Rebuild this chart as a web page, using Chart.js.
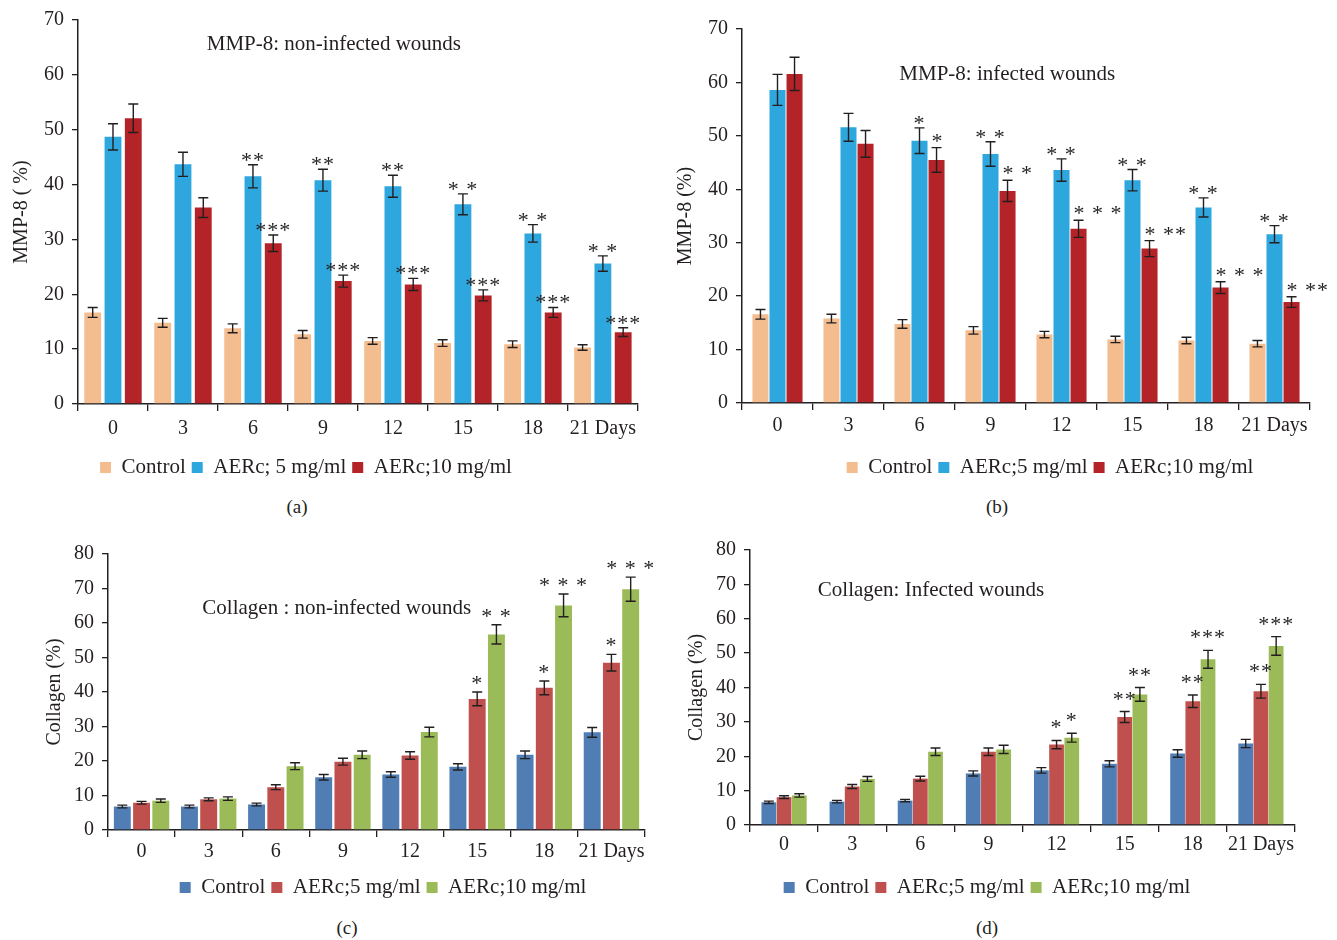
<!DOCTYPE html>
<html>
<head>
<meta charset="utf-8">
<script src="https://cdn.jsdelivr.net/npm/chart.js@4.4.1/dist/chart.umd.min.js"></script>
<style>
  html, body { margin: 0; padding: 0; background: #fff; overflow: hidden; }
  body { width: 1337px; height: 940px; position: relative; font-family: 'Liberation Serif', serif; }
  canvas { position: absolute; }
  .cap { position: absolute; font-size: 19px; color: #231f20; transform: translate(-50%, -50%); }
</style>
</head>
<body>
<canvas id="chartA"></canvas>
<canvas id="chartB"></canvas>
<canvas id="chartC"></canvas>
<canvas id="chartD"></canvas>
<div class="cap" style="left:297px;top:507px">(a)</div>
<div class="cap" style="left:997px;top:507px">(b)</div>
<div class="cap" style="left:347px;top:928px">(c)</div>
<div class="cap" style="left:987px;top:928px">(d)</div>
<script>
// --- DATA ---
const days = ['0', '3', '6', '9', '12', '15', '18', '21 Days'];

// (a) MMP-8, non-infected wounds
const aCtrl = [16.7, 14.8, 13.8, 12.7, 11.5, 11.1, 10.9, 10.3];
const aCtrlErr = [0.9, 0.8, 0.8, 0.7, 0.6, 0.6, 0.6, 0.5];
const aLow = [48.7, 43.7, 41.5, 40.8, 39.7, 36.4, 31.1, 25.6];
const aLowErr = [2.4, 2.2, 2.1, 2.0, 2.0, 1.9, 1.6, 1.4];
const aHigh = [52.1, 35.8, 29.3, 22.4, 21.8, 19.8, 16.7, 13.1];
const aHighErr = [2.6, 1.8, 1.5, 1.1, 1.1, 1.0, 0.9, 0.8];
const aLowStars = ['', '', '**', '**', '**', '* *', '* *', '* *'];
const aHighStars = ['', '', '***', '***', '***', '***', '***', '***'];

// (b) MMP-8, infected wounds
const bCtrl = [16.6, 15.8, 14.8, 13.6, 12.8, 11.9, 11.7, 11.1];
const bCtrlErr = [0.9, 0.8, 0.8, 0.7, 0.6, 0.6, 0.6, 0.6];
const bLow = [58.6, 51.6, 49.1, 46.6, 43.6, 41.7, 36.6, 31.6];
const bLowErr = [2.9, 2.6, 2.4, 2.3, 2.1, 2.0, 1.8, 1.6];
const bHigh = [61.6, 48.5, 45.5, 39.7, 32.6, 28.9, 21.6, 18.9];
const bHighErr = [3.1, 2.5, 2.3, 2.0, 1.6, 1.5, 1.1, 1.0];
const bLowStars = ['', '', '*', '* *', '* *', '* *', '* *', '* *'];
const bHighStars = ['', '', '*', '* *', '* * *', '* **', '* * *', '* **'];

// (c) Collagen, non-infected wounds
const cCtrl = [6.8, 6.8, 7.4, 15.3, 16.1, 18.3, 21.8, 28.3];
const cCtrlErr = [0.4, 0.4, 0.4, 0.8, 0.8, 0.9, 1.1, 1.4];
const cLow = [7.9, 8.9, 12.4, 19.8, 21.6, 38.0, 41.2, 48.5];
const cLowErr = [0.4, 0.4, 0.7, 1.0, 1.1, 2.0, 2.0, 2.4];
const cHigh = [8.5, 9.1, 18.5, 21.8, 28.4, 56.7, 65.1, 69.8];
const cHighErr = [0.5, 0.5, 1.0, 1.1, 1.4, 2.8, 3.3, 3.5];
const cLowStars = ['', '', '', '', '', '*', '*', '*'];
const cHighStars = ['', '', '', '', '', '* *', '* * *', '* * *'];

// (d) Collagen, infected wounds
const dCtrl = [6.6, 6.8, 7.1, 15.0, 15.9, 17.8, 20.8, 23.7];
const dCtrlErr = [0.35, 0.35, 0.35, 0.75, 0.8, 0.9, 1.1, 1.2];
const dLow = [8.1, 11.2, 13.5, 21.3, 23.4, 31.4, 36.0, 38.9];
const dLowErr = [0.4, 0.6, 0.7, 1.1, 1.2, 1.6, 1.8, 2.0];
const dHigh = [8.6, 13.4, 21.3, 22.0, 25.4, 38.0, 48.2, 52.1];
const dHighErr = [0.5, 0.7, 1.1, 1.2, 1.3, 2.0, 2.6, 2.7];
const dLowStars = ['', '', '', '', '*', '**', '**', '**'];
const dHighStars = ['', '', '', '', '*', '**', '***', '***'];

const INK = '#231f20';
const SERIF = "'Liberation Serif', 'Times New Roman', serif";

// --- PLUGINS ---
const errorBars = {
    id: 'errorBars',
    afterDatasetsDraw(chart) {
        const ctx = chart.ctx;
        const y = chart.scales.y;
        ctx.save();
        ctx.strokeStyle = INK;
        ctx.lineWidth = 1.4;
        chart.data.datasets.forEach((ds, i) => {
            chart.getDatasetMeta(i).data.forEach((bar, j) => {
                const v = ds.data[j], e = ds.errors[j];
                const top = y.getPixelForValue(v + e);
                const bot = y.getPixelForValue(v - e);
                ctx.beginPath();
                ctx.moveTo(bar.x, top); ctx.lineTo(bar.x, bot);
                ctx.moveTo(bar.x - 5, top); ctx.lineTo(bar.x + 5, top);
                ctx.moveTo(bar.x - 5, bot); ctx.lineTo(bar.x + 5, bot);
                ctx.stroke();
            });
        });
        ctx.restore();
    }
};

const starMarks = {
    id: 'starMarks',
    afterDatasetsDraw(chart, args, opts) {
        const ctx = chart.ctx;
        const y = chart.scales.y;
        ctx.save();
        ctx.fillStyle = INK;
        ctx.font = '22px ' + SERIF;
        ctx.letterSpacing = '1px';
        ctx.textBaseline = 'alphabetic';
        chart.data.datasets.forEach((ds, i) => {
            if (!ds.stars) return;
            chart.getDatasetMeta(i).data.forEach((bar, j) => {
                const s = ds.stars[j];
                if (!s) return;
                const top = y.getPixelForValue(ds.data[j] + ds.errors[j]);
                ctx.textAlign = ds.starAlign || 'center';
                const x = ds.starAlign === 'left' ? bar.x - 5 : bar.x;
                ctx.fillText(s, x, top - (ds.starGap || opts.gap) + 11);
            });
        });
        ctx.restore();
    }
};

const panelTitle = {
    id: 'panelTitle',
    afterDraw(chart, args, opts) {
        const ctx = chart.ctx;
        const area = chart.chartArea;
        ctx.save();
        ctx.fillStyle = INK;
        ctx.font = '21px ' + SERIF;
        ctx.textAlign = 'center';
        ctx.textBaseline = 'middle';
        ctx.fillText(opts.text, area.left + opts.xFrac * (area.right - area.left), chart.scales.y.getPixelForValue(opts.yVal));
        ctx.restore();
    }
};

// keep the legend block a fixed height so the axes land in place
const fixLegend = {
    id: 'fixLegend',
    beforeLayout(chart) {
        const lg = chart.legend;
        if (lg && !lg._fixed) {
            const fit = lg.fit;
            lg.fit = function () { fit.call(this); this.height = 40; };
            lg._fixed = true;
        }
    }
};

// --- PANELS ---
function makePanel(id, p) {
    const canvas = document.getElementById(id);
    canvas.width = p.w;
    canvas.height = p.h;
    canvas.style.left = p.x0 + 'px';
    canvas.style.top = p.y0 + 'px';
    canvas.style.width = p.w + 'px';
    canvas.style.height = p.h + 'px';

    const font = { family: SERIF, size: 20 };

    new Chart(canvas, {
        type: 'bar',
        data: {
            labels: days,
            datasets: p.series.map(s => ({
                label: s.label,
                data: s.data,
                errors: s.err,
                stars: s.stars,
                starAlign: s.starAlign,
                starGap: s.starGap,
                backgroundColor: s.color,
                borderWidth: 0,
                barPercentage: p.barPct,
                categoryPercentage: p.catPct
            }))
        },
        options: {
            responsive: false,
            animation: false,
            devicePixelRatio: 1,
            layout: { padding: { top: p.padTop, left: 0, right: 0, bottom: 0 } },
            plugins: {
                legend: {
                    position: 'bottom',
                    labels: { font: { family: SERIF, size: 21 }, color: INK, boxWidth: 11, boxHeight: 11, padding: 6 }
                },
                tooltip: { enabled: false },
                panelTitle: p.title,
                starMarks: { gap: p.starGap }
            },
            scales: {
                x: {
                    grid: { offset: true, drawOnChartArea: false, tickLength: 7, color: INK, lineWidth: 1.3 },
                    border: { color: INK, width: 1.5 },
                    ticks: { font: font, color: INK, padding: p.xPad, maxRotation: 0, autoSkip: false },
                    afterFit: s => { s.height = p.xH; }
                },
                y: {
                    min: 0,
                    max: p.yMax,
                    ticks: { stepSize: 10, font: font, color: INK, padding: 8 },
                    grid: { drawOnChartArea: false, tickLength: 6, color: INK, lineWidth: 1.3 },
                    border: { color: INK, width: 1.5 },
                    title: { display: true, text: p.yTitle, font: font, color: INK, padding: { top: p.titlePad, bottom: 0 } },
                    afterFit: s => { s.width = p.yW; }
                },
                yR: {
                    position: 'right',
                    display: true,
                    ticks: { display: false },
                    grid: { display: false },
                    border: { display: false },
                    afterFit: s => { s.width = p.y2W; }
                }
            }
        },
        plugins: [errorBars, starMarks, panelTitle, fixLegend]
    });
}

const PEACH = '#f4bd90', SKY = '#2ea7de', CRIMSON = '#b42327';
const STEEL = '#4f7db4', BRICK = '#c0504d', OLIVE = '#9bbb59';

makePanel('chartA', {
    x0: -30, y0: 0, w: 672, h: 491, yW: 108, y2W: 1, padTop: 19, xH: 47, xPad: 6, titlePad: 40,
    yMax: 70, yTitle: 'MMP-8 ( %)', barPct: 0.83, catPct: 0.87, starGap: 9,
    title: { text: 'MMP-8: non-infected wounds', xFrac: 0.457, yVal: 65.6 },
    series: [
        { label: 'Control', data: aCtrl, err: aCtrlErr, color: PEACH },
        { label: 'AERc; 5 mg/ml', data: aLow, err: aLowErr, stars: aLowStars, color: SKY },
        { label: 'AERc;10 mg/ml', data: aHigh, err: aHighErr, stars: aHighStars, color: CRIMSON }
    ]
});

makePanel('chartB', {
    x0: 660, y0: 0, w: 780, h: 491, yW: 82, y2W: 130, padTop: 29, xH: 48, xPad: 4, titlePad: 14,
    yMax: 70, yTitle: 'MMP-8 (%)', barPct: 0.94, catPct: 0.72, starGap: 9,
    title: { text: 'MMP-8: infected wounds', xFrac: 0.467, yVal: 61.4 },
    series: [
        { label: 'Control', data: bCtrl, err: bCtrlErr, color: PEACH },
        { label: 'AERc;5 mg/ml', data: bLow, err: bLowErr, stars: bLowStars, color: SKY },
        { label: 'AERc;10 mg/ml', data: bHigh, err: bHighErr, stars: bHighStars, starAlign: 'left', starGap: 11, color: CRIMSON }
    ]
});

makePanel('chartC', {
    x0: 0, y0: 530, w: 766, h: 381, yW: 108, y2W: 121, padTop: 24, xH: 41, xPad: 3, titlePad: 43,
    yMax: 80, yTitle: 'Collagen (%)', barPct: 0.88, catPct: 0.86, starGap: 13,
    title: { text: 'Collagen : non-infected wounds', xFrac: 0.426, yVal: 64.3 },
    series: [
        { label: 'Control', data: cCtrl, err: cCtrlErr, color: STEEL },
        { label: 'AERc;5 mg/ml', data: cLow, err: cLowErr, stars: cLowStars, color: BRICK },
        { label: 'AERc;10 mg/ml', data: cHigh, err: cHighErr, stars: cHighStars, color: OLIVE }
    ]
});

makePanel('chartD', {
    x0: 660, y0: 530, w: 654, h: 381, yW: 90, y2W: 19, padTop: 16, xH: 46, xPad: 1, titlePad: 25,
    yMax: 80, yTitle: 'Collagen (%)', barPct: 0.97, catPct: 0.67, starGap: 17,
    title: { text: 'Collagen: Infected wounds', xFrac: 0.332, yVal: 68.2 },
    series: [
        { label: 'Control', data: dCtrl, err: dCtrlErr, color: STEEL },
        { label: 'AERc;5 mg/ml', data: dLow, err: dLowErr, stars: dLowStars, color: BRICK },
        { label: 'AERc;10 mg/ml', data: dHigh, err: dHighErr, stars: dHighStars, color: OLIVE }
    ]
});
</script>
</body>
</html>
